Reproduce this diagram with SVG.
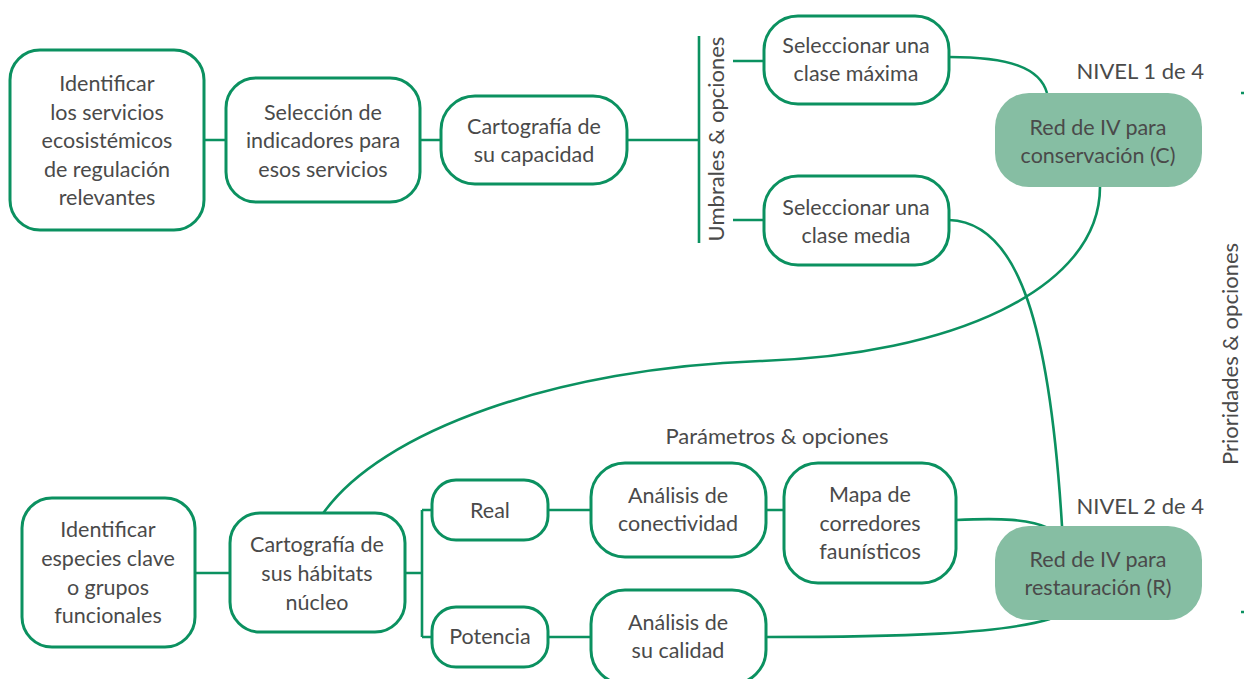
<svg xmlns="http://www.w3.org/2000/svg" width="1244" height="679" viewBox="0 0 1244 679">
<style>
.n{fill:#fff;stroke:#0b9160;stroke-width:3}
.h{fill:#86bea3;stroke:none}
.c{fill:none;stroke:#0b9160;stroke-width:2.6}
text{font-family:Lato,"Open Sans","Liberation Sans",sans-serif;font-size:21.5px;fill:#4a4a4a;text-anchor:middle}
.l{font-size:22px}
.e{text-anchor:end}
</style>
<rect width="1244" height="679" fill="#fff"/>
<g id="connectors">
<path class="c" d="M205,140H226M420,140H441M627,140H699M699,36V243M733,61H764M733,220H764"/>
<path class="c" d="M949,57C1010,57 1040,68 1047,93"/>
<path class="c" d="M949,220C1020,222 1050,330 1062,526"/>
<path class="c" d="M1100,187C1100,290 950,355 760,361C560,368 380,430 322,515"/>
<path class="c" d="M195,573H230M405,573H422M422,510V637M422,510H432M422,637H432M548,510H591M766,510H784M548,637H591"/>
<path class="c" d="M956,520C1000,518 1030,519 1048,528"/>
<path class="c" d="M766,637C900,637 1000,634 1050,619"/>
<path class="c" d="M1241,93H1244M1241,612H1244"/>
</g>
<g id="n1"><rect class="n" x="10" y="50" width="194" height="180" rx="30"/>
<text x="107" y="91">Identificar</text><text x="107" y="120">los servicios</text><text x="107" y="148">ecosistémicos</text><text x="107" y="177">de regulación</text><text x="107" y="205">relevantes</text></g>
<g id="n2"><rect class="n" x="226" y="78" width="194" height="124" rx="30"/>
<text x="323" y="120">Selección de</text><text x="323" y="148">indicadores para</text><text x="323" y="177">esos servicios</text></g>
<g id="n3"><rect class="n" x="441" y="96" width="186" height="88" rx="34"/>
<text x="534" y="134">Cartografía de</text><text x="534" y="162">su capacidad</text></g>
<g id="umbrales"><text class="l" transform="translate(724,139) rotate(-90)">Umbrales &amp; opciones</text></g>
<g id="n4"><rect class="n" x="764" y="16" width="185" height="88" rx="34"/>
<text x="856" y="53">Seleccionar una</text><text x="856" y="81">clase máxima</text></g>
<g id="n5"><rect class="n" x="764" y="176" width="185" height="89" rx="34"/>
<text x="856" y="215">Seleccionar una</text><text x="856" y="243">clase media</text></g>
<g id="nivel1"><text class="l e" x="1204" y="79">NIVEL 1 de 4</text></g>
<g id="n6"><rect class="h" x="995" y="93" width="207" height="94" rx="34"/>
<text x="1098" y="135">Red de IV para</text><text x="1098" y="163">conservación (C)</text></g>
<g id="prioridades"><text class="l" transform="translate(1238,354) rotate(-90)">Prioridades &amp; opciones</text></g>
<g id="n7"><rect class="n" x="22" y="498" width="173" height="149" rx="30"/>
<text x="108" y="537">Identificar</text><text x="108" y="566">especies clave</text><text x="108" y="595">o grupos</text><text x="108" y="623">funcionales</text></g>
<g id="n8"><rect class="n" x="230" y="513" width="175" height="119" rx="30"/>
<text x="317" y="552">Cartografía de</text><text x="317" y="581">sus hábitats</text><text x="317" y="610">núcleo</text></g>
<g id="n9"><rect class="n" x="432" y="480" width="116" height="60" rx="24"/><text x="490" y="518">Real</text></g>
<g id="n10"><rect class="n" x="432" y="607" width="116" height="60" rx="24"/><text x="490" y="644">Potencia</text></g>
<g id="parametros"><text class="l" x="777" y="444">Parámetros &amp; opciones</text></g>
<g id="n11"><rect class="n" x="591" y="463" width="175" height="94" rx="34"/>
<text x="678" y="503">Análisis de</text><text x="678" y="531">conectividad</text></g>
<g id="n12"><rect class="n" x="784" y="463" width="172" height="120" rx="34"/>
<text x="870" y="502">Mapa de</text><text x="870" y="531">corredores</text><text x="870" y="559">faunísticos</text></g>
<g id="n13"><rect class="n" x="591" y="590" width="175" height="94" rx="34"/>
<text x="678" y="630">Análisis de</text><text x="678" y="658">su calidad</text></g>
<g id="nivel2"><text class="l e" x="1204" y="514">NIVEL 2 de 4</text></g>
<g id="n14"><rect class="h" x="995" y="526" width="207" height="94" rx="34"/>
<text x="1098" y="567">Red de IV para</text><text x="1098" y="595">restauración (R)</text></g>
</svg>
